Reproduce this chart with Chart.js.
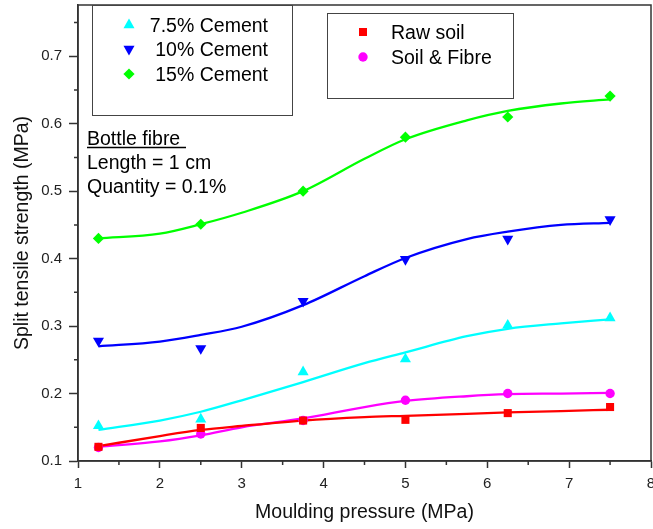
<!DOCTYPE html>
<html>
<head>
<meta charset="utf-8">
<script src="https://cdn.jsdelivr.net/npm/chart.js@4/dist/chart.umd.min.js"></script>
<style>
  html, body { margin: 0; padding: 0; background: #fff; }
  #wrap { width: 653px; height: 529px; position: relative; }
</style>
</head>
<body>
<div id="wrap"><canvas id="c" width="653" height="529"></canvas></div>
<script>
// ---- data ----
const pressure = [1.25, 2.5, 3.75, 5, 6.25, 7.5];
const rawSoil   = [0.121, 0.149, 0.16, 0.161, 0.171, 0.18];
const soilFibre = [0.12, 0.14, 0.16, 0.19, 0.20, 0.20];
const cement75  = [0.152, 0.162, 0.232, 0.251, 0.301, 0.312];
const cement10  = [0.278, 0.267, 0.337, 0.399, 0.429, 0.458];
const cement15  = [0.43, 0.451, 0.50, 0.58, 0.61, 0.641];

// fitted curves
const fitX        = [1.25, 2, 2.5, 3, 3.75, 4.5, 5, 5.75, 6.25, 6.9, 7.5];
const fitRawSoil  = [0.122, 0.137, 0.146, 0.152, 0.160, 0.165, 0.167, 0.170, 0.172, 0.174, 0.176];
const fitFibre    = [0.121, 0.129, 0.138, 0.150, 0.163, 0.180, 0.189, 0.196, 0.199, 0.200, 0.201];
const fit75       = [0.146, 0.160, 0.173, 0.190, 0.217, 0.245, 0.261, 0.285, 0.296, 0.304, 0.310];
const fit10       = [0.270, 0.277, 0.287, 0.299, 0.331, 0.374, 0.401, 0.429, 0.440, 0.450, 0.453];
const fit15       = [0.430, 0.437, 0.451, 0.468, 0.500, 0.548, 0.577, 0.605, 0.619, 0.630, 0.636];

const xTicks = [1, 2, 3, 4, 5, 6, 7, 8];
const yTicks = [0.1, 0.2, 0.3, 0.4, 0.5, 0.6, 0.7];

const legendA = ['7.5% Cement', '10% Cement', '15% Cement'];
const legendB = ['Raw soil', 'Soil & Fibre'];
const noteLines = ['Bottle fibre', 'Length = 1 cm', 'Quantity = 0.1%'];

const C_CYAN = '#00FFFF', C_BLUE = '#0000FF', C_GREEN = '#00FF00', C_RED = '#FF0000', C_MAG = '#FF00FF';
const FONT = '"Liberation Sans", Arial, sans-serif';

const pts = (xs, ys) => xs.map((x, i) => ({x: x, y: ys[i]}));

function scatterDs(label, data, color, style, radius, rotation) {
  return { type: 'scatter', label, data: pts(pressure, data), backgroundColor: color, borderColor: color,
    pointStyle: style, pointRadius: radius, pointHoverRadius: radius, pointRotation: rotation || 0,
    borderWidth: 0, showLine: false, order: 0 };
}
function fitDs(data, color) {
  return { type: 'line', data: pts(fitX, data), borderColor: color, borderWidth: 2.3,
    pointRadius: 0, fill: false, cubicInterpolationMode: 'monotone', order: 1 };
}

const frame = {
  id: 'frame',
  afterDraw(chart) {
    const {ctx, chartArea: a, scales} = chart;
    ctx.save();
    ctx.strokeStyle = '#333'; ctx.lineWidth = 1.5;
    ctx.strokeRect(a.left, a.top, a.right - a.left, a.bottom - a.top);
    // minor ticks
    ctx.beginPath();
    for (let v = 1.5; v < 8; v += 1) {
      const px = scales.x.getPixelForValue(v);
      ctx.moveTo(px, a.bottom); ctx.lineTo(px, a.bottom + 4);
    }
    for (let v = 0.15; v < 0.78; v += 0.1) {
      const py = scales.y.getPixelForValue(v);
      ctx.moveTo(a.left, py); ctx.lineTo(a.left - 4, py);
    }
    ctx.stroke();

    // legend boxes
    ctx.lineWidth = 1; ctx.strokeStyle = '#444';
    ctx.strokeRect(92.5, 5.5, 200, 110);
    ctx.strokeRect(327.5, 13.5, 186, 85);

    ctx.font = '19.5px ' + FONT;
    ctx.fillStyle = '#000';
    ctx.textBaseline = 'alphabetic';
    // legend A
    const yA = [25, 49, 74];
    ctx.textAlign = 'right';
    legendA.forEach((t, i) => ctx.fillText(t, 268, yA[i] + 7));
    // markers
    const r = 6.4;
    ctx.fillStyle = C_CYAN; ctx.beginPath();
    ctx.moveTo(129, yA[0] - r); ctx.lineTo(129 + r * 0.866, yA[0] + r / 2); ctx.lineTo(129 - r * 0.866, yA[0] + r / 2); ctx.closePath(); ctx.fill();
    ctx.fillStyle = C_BLUE; ctx.beginPath();
    ctx.moveTo(129, yA[1] + r); ctx.lineTo(129 + r * 0.866, yA[1] - r / 2); ctx.lineTo(129 - r * 0.866, yA[1] - r / 2); ctx.closePath(); ctx.fill();
    ctx.fillStyle = C_GREEN; ctx.beginPath();
    const d = 5.6;
    ctx.moveTo(129, yA[2] - d); ctx.lineTo(129 + d, yA[2]); ctx.lineTo(129, yA[2] + d); ctx.lineTo(129 - d, yA[2]); ctx.closePath(); ctx.fill();

    // legend B
    const yB = [32, 57];
    ctx.fillStyle = '#000'; ctx.textAlign = 'left';
    legendB.forEach((t, i) => ctx.fillText(t, 391, yB[i] + 7));
    ctx.fillStyle = C_RED; ctx.fillRect(363 - 4, yB[0] - 4, 8, 8);
    ctx.fillStyle = C_MAG; ctx.beginPath(); ctx.arc(363, yB[1], 4.7, 0, Math.PI * 2); ctx.fill();

    // note
    ctx.fillStyle = '#000';
    ctx.fillText(noteLines[0], 87, 145);
    ctx.fillText(noteLines[1], 87, 169);
    ctx.fillText(noteLines[2], 87, 193);
    ctx.strokeStyle = '#000'; ctx.lineWidth = 1.3;
    ctx.beginPath(); ctx.moveTo(87, 147.5); ctx.lineTo(186, 147.5); ctx.stroke();
    ctx.restore();
  }
};

new Chart(document.getElementById('c'), {
  data: {
    datasets: [
      scatterDs('7.5% Cement', cement75, C_CYAN, 'triangle', 6.4, 0),
      scatterDs('10% Cement', cement10, C_BLUE, 'triangle', 6.4, 180),
      scatterDs('15% Cement', cement15, C_GREEN, 'rectRot', 5.6, 0),
      scatterDs('Raw soil', rawSoil, C_RED, 'rect', 5.7, 0),
      scatterDs('Soil & Fibre', soilFibre, C_MAG, 'circle', 4.7, 0),
      fitDs(fit75, C_CYAN),
      fitDs(fit10, C_BLUE),
      fitDs(fit15, C_GREEN),
      fitDs(fitRawSoil, C_RED),
      fitDs(fitFibre, C_MAG)
    ]
  },
  options: {
    responsive: false,
    animation: false,
    events: [],
    layout: { autoPadding: false, padding: { top: 5, right: 2, left: 0, bottom: 0 } },
    plugins: { legend: { display: false }, tooltip: { enabled: false } },
    scales: {
      x: {
        type: 'linear', position: 'bottom', min: 1, max: 8,
        afterBuildTicks: s => { s.ticks = xTicks.map(v => ({value: v})); },
        ticks: { color: '#222', font: { family: FONT, size: 15 }, padding: 7, maxRotation: 0,
          callback: v => String(v) },
        grid: { drawOnChartArea: false, drawTicks: true, tickLength: 7, tickColor: '#333', tickWidth: 1.5 },
        border: { display: true, color: '#333', width: 1.5 },
        title: { display: true, text: 'Moulding pressure (MPa)', color: '#111',
          font: { family: FONT, size: 19.5 }, padding: { top: 0, bottom: 5 } },
        afterFit: s => { s.height = 68; s.paddingLeft = 0; s.paddingRight = 0; }
      },
      y: {
        type: 'linear', position: 'left', min: 0.1, max: 0.776,
        afterBuildTicks: s => { s.ticks = yTicks.map(v => ({value: v})); },
        ticks: { color: '#222', font: { family: FONT, size: 15 }, padding: 7,
          callback: v => Number(v).toFixed(1) },
        grid: { drawOnChartArea: false, drawTicks: true, tickLength: 9, tickColor: '#333', tickWidth: 1.5 },
        border: { display: true, color: '#333', width: 1.5 },
        title: { display: true, text: 'Split tensile strength (MPa)', color: '#111',
          font: { family: FONT, size: 19.5 }, padding: { top: 11, bottom: 0 } },
        afterFit: s => { s.width = 78; s.paddingTop = 0; s.paddingBottom = 0; }
      }
    }
  },
  plugins: [frame]
});
</script>
</body>
</html>
